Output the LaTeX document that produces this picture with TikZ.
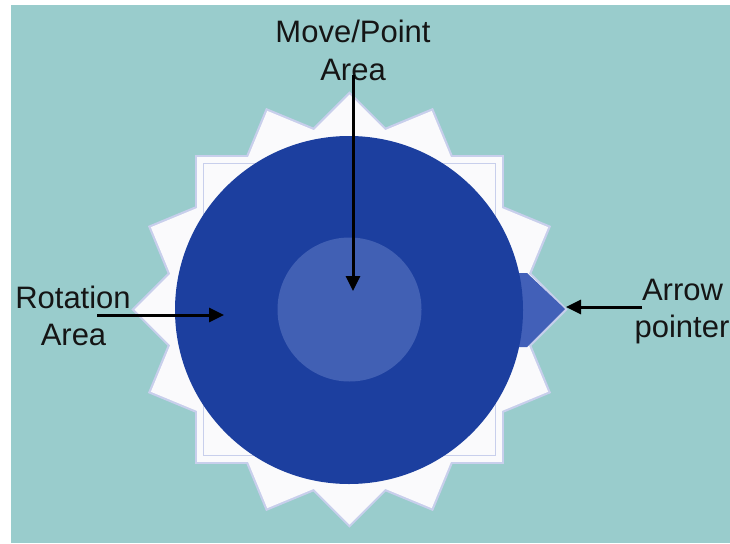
\documentclass[tikz,border=0pt]{standalone}
\usepackage{fontspec}
\setmainfont{Liberation Sans}
\usetikzlibrary{arrows.meta}

\definecolor{bgteal}{HTML}{99CCCC}
\definecolor{dialblue}{HTML}{1C3F9F}
\definecolor{hubblue}{HTML}{4160B4}
\definecolor{tipblue}{HTML}{4260B8}
\definecolor{starfill}{HTML}{FAFAFC}
\definecolor{starline}{HTML}{C8CFEC}
\definecolor{inktext}{HTML}{151515}

\tikzset{
  lbl/.style={font=\fontsize{31}{37}\selectfont, text=inktext, inner sep=0pt, anchor=base},
  callout/.style={draw=black, line width=3pt, -{Triangle[length=15pt,width=14pt]}},
}

\begin{document}
\begin{tikzpicture}[x=1pt,y=-1pt]
  \useasboundingbox (0,0) rectangle (730,543);
  \fill[white] (0,0) rectangle (730,543);
  \fill[bgteal] (11,5) rectangle (730,543);

  % sixteen-pointed star from four rotated squares
  \begin{scope}[shift={(349.5,309.5)}]
    \foreach \a in {0,22.5,45,67.5}
      \draw[starline, line width=4.5pt, line join=miter]
        (\a+45:215) -- (\a+135:215) -- (\a+225:215) -- (\a+315:215) -- cycle;
    \foreach \a in {0,22.5,45,67.5}
      \fill[starfill]
        (\a+45:215) -- (\a+135:215) -- (\a+225:215) -- (\a+315:215) -- cycle;
    \draw[starline, line width=1.2pt] (-146,-146) rectangle (146,146);
  \end{scope}

  % pointer tab on the right of the dial
  \fill[tipblue] (500,273) -- (527,273) -- (565,309) -- (527,347) -- (500,347) -- cycle;

  % dial and central hub
  \node[circle, fill=dialblue, minimum size=348pt, inner sep=0pt] (dial) at (349,310) {};
  \node[circle, fill=hubblue, minimum size=144pt, inner sep=0pt] (hub) at (349.5,309.5) {};

  % labels
  \node[lbl] (move1) at (353,43) {Move/Point};
  \node[lbl] (move2) at (353,81) {Area};
  \node[lbl] (rot1) at (73,308) {Rotation};
  \node[lbl] (rot2) at (73.5,345) {Area};
  \node[lbl] (arr1) at (682.5,300) {Arrow};
  \node[lbl] (arr2) at (682,337) {pointer};

  % callout arrows
  \coordinate (moveStart) at (353,75);
  \coordinate (moveEnd) at (353,291);
  \coordinate (rotStart) at (97,315);
  \coordinate (rotEnd) at (224,315);
  \coordinate (ptrStart) at (642,307);
  \coordinate (ptrEnd) at (566,307);
  \draw[callout] (moveStart) -- (moveEnd);
  \draw[callout] (rotStart) -- (rotEnd);
  \draw[callout] (ptrStart) -- (ptrEnd);
\end{tikzpicture}
\end{document}
